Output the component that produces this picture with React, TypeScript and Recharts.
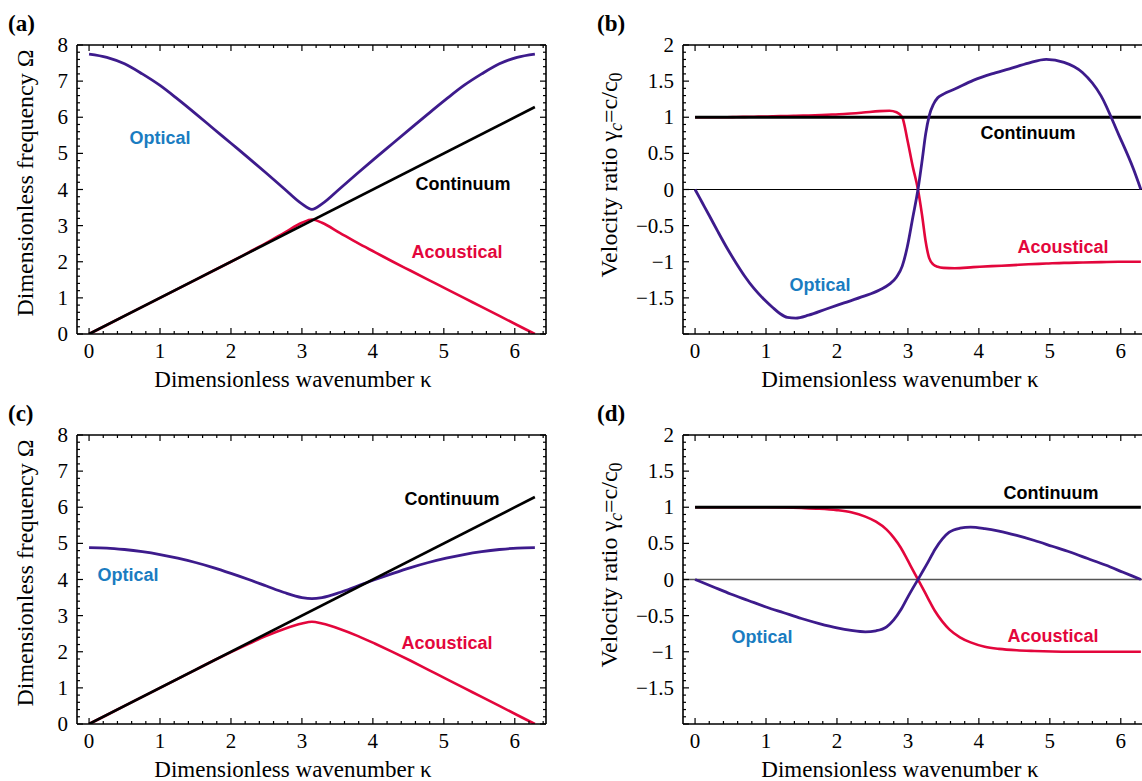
import React from 'react';
import { LineChart, Line, XAxis, YAxis, ReferenceLine } from 'recharts';

const SERIF = '"Liberation Serif", "Times New Roman", serif';
const SANS = '"Liberation Sans", Arial, sans-serif';
const PURPLE = '#3d1b8c';
const RED = '#e3063c';
const BLUE = '#1a7cc1';

// wavenumber grid for the frequency panels (a) and (c)
const kappaFreq = [0, 0.25, 0.5, 0.75, 1, 1.25, 1.5, 1.75, 2, 2.25, 2.5, 2.75, 3, 3.1416,
  3.2832, 3.5332, 3.7832, 4.0332, 4.2832, 4.5332, 4.7832, 5.0332, 5.2832, 5.5332, 5.7832, 6.0332, 6.2832];
const opticalA = [7.75, 7.66, 7.48, 7.2, 6.88, 6.5, 6.1, 5.69, 5.28, 4.87, 4.45, 4.02, 3.6, 3.45,
  3.6, 4.02, 4.45, 4.87, 5.28, 5.69, 6.1, 6.5, 6.88, 7.2, 7.48, 7.66, 7.75];
const acousticA = [0, 0.25, 0.5, 0.75, 1.0, 1.25, 1.5, 1.75, 2.0, 2.26, 2.52, 2.8, 3.08, 3.17,
  3.08, 2.8, 2.52, 2.26, 2.0, 1.75, 1.5, 1.25, 1.0, 0.75, 0.5, 0.25, 0];
const opticalC = [4.88, 4.87, 4.83, 4.77, 4.69, 4.59, 4.47, 4.33, 4.17, 4.0, 3.82, 3.64, 3.5, 3.47,
  3.5, 3.64, 3.82, 4.0, 4.17, 4.33, 4.47, 4.59, 4.69, 4.77, 4.83, 4.87, 4.88];
const acousticC = [0, 0.25, 0.5, 0.75, 1.0, 1.25, 1.5, 1.75, 1.99, 2.22, 2.44, 2.63, 2.78, 2.83,
  2.78, 2.63, 2.44, 2.22, 1.99, 1.75, 1.5, 1.25, 1.0, 0.75, 0.5, 0.25, 0];

// continuum (non-dispersive) reference
const kappaCont = [0, 6.2832];
const freqCont = [0, 6.2832];
const velCont = [1, 1];

// panel (b): velocity ratios, sampled densely around pi
const kappaB = [0, 0.1, 0.2, 0.32, 0.45, 0.58, 0.7, 0.83, 0.96, 1.09, 1.2, 1.3, 1.42, 1.6, 1.86, 2.1, 2.37, 2.6, 2.74, 2.84,
  2.92, 2.99, 3.07, 3.1416, 3.2, 3.25, 3.3, 3.36, 3.42, 3.5, 3.66, 3.92, 4.18, 4.43, 4.7, 4.95, 5.2, 5.46, 5.72, 5.97, 6.18, 6.2832];
const opticalB = [0, -0.18, -0.36, -0.58, -0.81, -1.02, -1.2, -1.37, -1.51, -1.63, -1.72, -1.77, -1.78, -1.74, -1.65, -1.57, -1.48, -1.39, -1.31, -1.21,
  -1.06, -0.8, -0.38, 0, 0.4, 0.77, 1.02, 1.18, 1.27, 1.32, 1.39, 1.51, 1.6, 1.67, 1.75, 1.8, 1.76, 1.62, 1.3, 0.76, 0.28, 0];
const acousticB = [1, 1, 1, 1, 1, 1.003, 1.005, 1.007, 1.01, 1.012, 1.015, 1.017, 1.02, 1.025, 1.035, 1.045, 1.065, 1.085, 1.09, 1.07,
  1.0, 0.7, 0.31, 0, -0.36, -0.72, -0.95, -1.04, -1.07, -1.085, -1.09, -1.075, -1.06, -1.05, -1.035, -1.025, -1.015, -1.01, -1.005, -1.0, -1.0, -1.0];

// panel (d)
const kappaD = [0, 0.25, 0.5, 0.75, 1, 1.25, 1.5, 1.75, 2, 2.2, 2.4, 2.55, 2.7, 2.8, 2.9, 3.0, 3.07, 3.1416,
  3.2132, 3.2832, 3.3832, 3.4832, 3.5832, 3.7332, 3.8832, 4.0832, 4.2832, 4.5332, 4.7832, 5.0332, 5.2832, 5.5332, 5.7832, 6.0332, 6.2832];
const opticalD = [0, -0.1, -0.2, -0.29, -0.38, -0.46, -0.54, -0.61, -0.67, -0.705, -0.725, -0.71, -0.655, -0.56, -0.42, -0.24, -0.12, 0,
  0.12, 0.24, 0.42, 0.56, 0.655, 0.71, 0.725, 0.705, 0.67, 0.61, 0.54, 0.46, 0.38, 0.29, 0.2, 0.1, 0];
const acousticD = [1, 1, 1, 1, 1, 0.997, 0.99, 0.98, 0.96, 0.93, 0.87, 0.8, 0.69, 0.58, 0.44, 0.26, 0.13, 0,
  -0.13, -0.26, -0.44, -0.58, -0.69, -0.8, -0.87, -0.93, -0.96, -0.98, -0.99, -0.997, -1, -1, -1, -1, -1];

// tick labels
const xMajor = [0, 1, 2, 3, 4, 5, 6];
const freqMajor = [0, 1, 2, 3, 4, 5, 6, 7, 8];
const velMajor = [-1.5, -1, -0.5, 0, 0.5, 1, 1.5, 2];

const X_DOMAIN: [number, number] = [-0.17, 6.44];

const rows = (ks: number[], vs: number[]) => ks.map((k, i) => ({ k, v: vs[i] }));
const steps = (from: number, to: number, step: number) => {
  const out: number[] = [];
  for (let i = 0; from + i * step <= to + 1e-9; i++) out.push(+(from + i * step).toFixed(3));
  return out;
};
const near = (a: number, b: number) => Math.abs(a - b) < 1e-6;
const isMajor = (v: number, step: number) => near(v / step, Math.round(v / step));
const fmt = (v: number) => (v < 0 ? '\u2212' + String(-v) : String(v));

type Side = 'bottom' | 'top' | 'left' | 'right';

const makeTick = (side: Side, majorStep: number, labels: number[] | null) => (props: any) => {
  const { x, y, payload } = props;
  const v = payload.value as number;
  const len = isMajor(v, majorStep) ? 6 : 3;
  const show = labels && labels.some((l) => near(l, v));
  let line;
  if (side === 'bottom') line = <line x1={x} x2={x} y1={y} y2={y - len} />;
  else if (side === 'top') line = <line x1={x} x2={x} y1={y} y2={y + len} />;
  else if (side === 'left') line = <line x1={x} x2={x + len} y1={y} y2={y} />;
  else line = <line x1={x} x2={x - len} y1={y} y2={y} />;
  return (
    <g stroke="#000" strokeWidth={1.2}>
      {line}
      {show && side === 'bottom' && (
        <text x={x} y={y + 24} textAnchor="middle" stroke="none" fill="#000" fontFamily={SERIF} fontSize={21}>{fmt(v)}</text>
      )}
      {show && side === 'left' && (
        <text x={x - 9} y={y + 7} textAnchor="end" stroke="none" fill="#000" fontFamily={SERIF} fontSize={21}>{fmt(v)}</text>
      )}
    </g>
  );
};

type Series = { data: { k: number; v: number }[]; color: string; width: number };

type PanelProps = {
  left: number;
  top: number;
  width: number;
  leftGutter: number;
  yDomain: [number, number];
  yMinor: number;
  yMajorStep: number;
  yLabels: number[];
  series: Series[];
  zeroLine?: { stroke: string; width: number };
};

const TOP_GUTTER = 45;
const BOTTOM_GUTTER = 56;
const RIGHT_GUTTER = 25;

const Panel: React.FC<PanelProps> = ({ left, top, width, leftGutter, yDomain, yMinor, yMajorStep, yLabels, series, zeroLine }) => {
  const xTicks = steps(0, 6.4, 0.2);
  const yTicks = steps(yDomain[0], yDomain[1], yMinor);
  const axisLine = { stroke: '#000', strokeWidth: 1.6 };
  return (
    <div style={{ position: 'absolute', left, top }}>
      <LineChart width={width} height={390} margin={{ top: 0, right: 0, bottom: 0, left: 0 }}>
        <XAxis xAxisId="b" dataKey="k" type="number" domain={X_DOMAIN} allowDataOverflow ticks={xTicks} interval={0}
          height={BOTTOM_GUTTER} tickSize={0} tickMargin={0} tickLine={false} axisLine={axisLine} tick={makeTick('bottom', 1, xMajor)} />
        <XAxis xAxisId="t" dataKey="k" type="number" orientation="top" domain={X_DOMAIN} allowDataOverflow ticks={xTicks} interval={0}
          height={TOP_GUTTER} tickSize={0} tickMargin={0} tickLine={false} axisLine={axisLine} tick={makeTick('top', 1, null)} />
        <YAxis yAxisId="l" type="number" domain={yDomain} allowDataOverflow ticks={yTicks} interval={0}
          width={leftGutter} tickSize={0} tickMargin={0} tickLine={false} axisLine={axisLine} tick={makeTick('left', yMajorStep, yLabels)} />
        <YAxis yAxisId="r" type="number" orientation="right" domain={yDomain} allowDataOverflow ticks={yTicks} interval={0}
          width={RIGHT_GUTTER} tickSize={0} tickMargin={0} tickLine={false} axisLine={axisLine} tick={makeTick('right', yMajorStep, null)} />
        {zeroLine && (
          <ReferenceLine xAxisId="b" yAxisId="l" y={0} stroke={zeroLine.stroke} strokeWidth={zeroLine.width} />
        )}
        {/* keeps the frame axes (top/right) bound to a series */}
        <Line xAxisId="t" yAxisId="r" data={series[0].data} dataKey="v" stroke="none" dot={false} activeDot={false} isAnimationActive={false} />
        {series.map((s, i) => (
          <Line key={i} xAxisId="b" yAxisId="l" data={s.data} dataKey="v" type="monotone" stroke={s.color}
            strokeWidth={s.width} dot={false} activeDot={false} isAnimationActive={false} />
        ))}
      </LineChart>
    </div>
  );
};

const CurveLabel = ({ x, y, color, children }: { x: number; y: number; color: string; children: string }) => (
  <text x={x} y={y} textAnchor="middle" fill={color} fontFamily={SANS} fontWeight="bold" fontSize={18}>{children}</text>
);

const FreqTitles = ({ oy, letter }: { oy: number; letter: string }) => (
  <g fontFamily={SERIF} fill="#000">
    <text x={8} y={oy + 31} fontWeight="bold" fontSize={23}>{letter}</text>
    <text transform={`translate(33, ${oy + 183}) rotate(-90)`} textAnchor="middle" fontSize={24}>Dimensionless frequency Ω</text>
    <text x={293} y={oy + 387} textAnchor="middle" fontSize={23}>Dimensionless wavenumber κ</text>
  </g>
);

const VelTitles = ({ oy, letter }: { oy: number; letter: string }) => (
  <g fontFamily={SERIF} fill="#000">
    <text x={597} y={oy + 31} fontWeight="bold" fontSize={23}>{letter}</text>
    <text transform={`translate(617, ${oy + 175}) rotate(-90)`} textAnchor="middle" fontSize={24}>
      Velocity ratio γ<tspan fontStyle="italic" fontSize={18} dy={5}>c</tspan>
      <tspan dy={-5}>=c/c</tspan>
      <tspan fontSize={18} dy={5}>0</tspan>
    </text>
    <text x={900} y={oy + 387} textAnchor="middle" fontSize={23}>Dimensionless wavenumber κ</text>
  </g>
);

export default function App() {
  const contF = rows(kappaCont, freqCont);
  const contV = rows(kappaCont, velCont);
  return (
    <div style={{ position: 'fixed', left: 0, top: 0, width: 1142, height: 781, overflow: 'hidden', background: '#fff' }}>
      <Panel left={0} top={0} width={571} leftGutter={77} yDomain={[0, 8]} yMinor={0.2} yMajorStep={1} yLabels={freqMajor}
        series={[
          { data: rows(kappaFreq, acousticA), color: RED, width: 2.6 },
          { data: rows(kappaFreq, opticalA), color: PURPLE, width: 2.8 },
          { data: contF, color: '#000', width: 2.6 },
        ]} />
      <Panel left={571} top={0} width={606} leftGutter={112} yDomain={[-2, 2]} yMinor={0.1} yMajorStep={0.5} yLabels={velMajor}
        zeroLine={{ stroke: '#000', width: 1 }}
        series={[
          { data: rows(kappaB, acousticB), color: RED, width: 2.6 },
          { data: contV, color: '#000', width: 3.2 },
          { data: rows(kappaB, opticalB), color: PURPLE, width: 2.8 },
        ]} />
      <Panel left={0} top={390} width={571} leftGutter={77} yDomain={[0, 8]} yMinor={0.2} yMajorStep={1} yLabels={freqMajor}
        series={[
          { data: rows(kappaFreq, acousticC), color: RED, width: 2.6 },
          { data: rows(kappaFreq, opticalC), color: PURPLE, width: 2.8 },
          { data: contF, color: '#000', width: 2.6 },
        ]} />
      <Panel left={571} top={390} width={606} leftGutter={112} yDomain={[-2, 2]} yMinor={0.1} yMajorStep={0.5} yLabels={velMajor}
        zeroLine={{ stroke: '#555', width: 1.6 }}
        series={[
          { data: rows(kappaD, acousticD), color: RED, width: 2.6 },
          { data: contV, color: '#000', width: 3.2 },
          { data: rows(kappaD, opticalD), color: PURPLE, width: 2.8 },
        ]} />
      <svg width={1142} height={781} style={{ position: 'absolute', left: 0, top: 0, pointerEvents: 'none' }}>
        <FreqTitles oy={0} letter="(a)" />
        <VelTitles oy={0} letter="(b)" />
        <FreqTitles oy={390} letter="(c)" />
        <VelTitles oy={390} letter="(d)" />
        <CurveLabel x={160} y={144} color={BLUE}>Optical</CurveLabel>
        <CurveLabel x={463} y={190} color="#000">Continuum</CurveLabel>
        <CurveLabel x={457} y={258} color={RED}>Acoustical</CurveLabel>
        <CurveLabel x={1028} y={139} color="#000">Continuum</CurveLabel>
        <CurveLabel x={1063} y={253} color={RED}>Acoustical</CurveLabel>
        <CurveLabel x={820} y={291} color={BLUE}>Optical</CurveLabel>
        <CurveLabel x={128} y={581} color={BLUE}>Optical</CurveLabel>
        <CurveLabel x={452} y={505} color="#000">Continuum</CurveLabel>
        <CurveLabel x={447} y={649} color={RED}>Acoustical</CurveLabel>
        <CurveLabel x={1051} y={499} color="#000">Continuum</CurveLabel>
        <CurveLabel x={1053} y={642} color={RED}>Acoustical</CurveLabel>
        <CurveLabel x={762} y={643} color={BLUE}>Optical</CurveLabel>
      </svg>
    </div>
  );
}
